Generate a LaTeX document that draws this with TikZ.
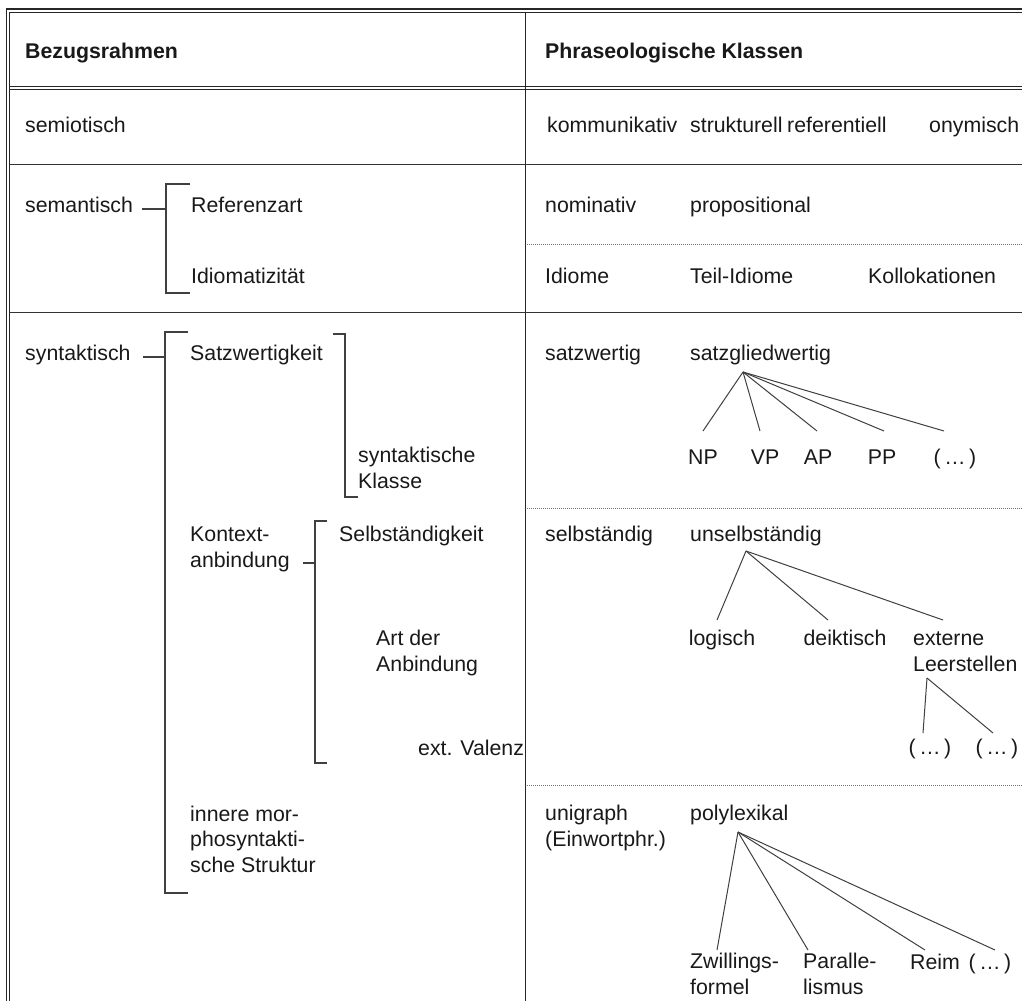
\documentclass[tikz,border=0pt]{standalone}
\usepackage{fontspec}
\setmainfont{Liberation Sans}
\begin{document}
\begin{tikzpicture}[x=1pt,y=-1pt,
  txt/.style={anchor=base west,inner sep=0pt,align=left,text=black!90,
    font=\fontsize{21.3}{25.5}\selectfont},
  ctxt/.style={txt,anchor=base},
  head/.style={txt,font=\fontsize{21.3}{25.5}\selectfont\bfseries},
  rule/.style={draw=black!85,line width=1.3pt},
  thinrule/.style={draw=black!80,line width=1pt},
  dotrule/.style={draw=black!55,line width=0.8pt,dash pattern=on 1pt off 1pt},
  brace/.style={draw=black!75,line width=1.1pt},
  branch/.style={draw=black!75,line width=1pt}]
\useasboundingbox (0,0) rectangle (1022,1001);
\fill[white] (0,0) rectangle (1022,1001);

% table frame
\draw[rule] (6.5,9) -- (6.5,1001);
\draw[rule] (9.8,12) -- (9.8,1001);
\draw[rule] (6,9) -- (1022,9);
\draw[rule] (9.8,12.2) -- (1022,12.2);
\draw[rule] (9.8,86.5) -- (1022,86.5);
\draw[rule] (9.8,89.5) -- (1022,89.5);
\draw[rule] (525.5,12.2) -- (525.5,1001);
\draw[thinrule] (9.8,164.5) -- (1022,164.5);
\draw[thinrule] (9.8,312) -- (1022,312);
\draw[dotrule] (527,244) -- (1022,244);
\draw[dotrule] (527,508) -- (1022,508);
\draw[dotrule] (527,785) -- (1022,785);

% header
\node[head] (hbez) at (25,58) {Bezugsrahmen};
\node[head] (hphr) at (545,58) {Phraseologische Klassen};

% semiotic row
\node[txt] (semio) at (25,132) {semiotisch};
\node[txt] (komm) at (547,132) {kommunikativ};
\node[txt] (strukt) at (690,132) {strukturell};
\node[txt] (refer) at (787,132) {referentiell};
\node[txt] (onym) at (929,132) {onymisch};

% semantic row
\node[txt] (seman) at (25,212) {semantisch};
\node[txt] (refart) at (191,212) {Referenzart};
\node[txt] (idiom) at (191,283) {Idiomatizität};
\node[txt] (nomin) at (545,212) {nominativ};
\node[txt] (propo) at (690,212) {propositional};
\node[txt] (idiome) at (545,283) {Idiome};
\node[txt] (teil) at (690,283) {Teil-Idiome};
\node[txt] (kollo) at (868,283) {Kollokationen};

\coordinate (semB) at (166,209);
\draw[brace] (142,209) -- (semB);
\draw[brace] (190,184) -| (166,293) -- (190,293);

% syntactic row, left column (multi-line nodes sit on their last baseline)
\node[txt] (synt) at (25,360) {syntaktisch};
\node[txt] (satzw) at (190,360) {Satzwertigkeit};
\node[txt] (synkl) at (358,488) {syntaktische\\Klasse};
\node[txt] (kont) at (190,567) {Kontext-\\anbindung};
\node[txt] (selbk) at (339,541) {Selbständigkeit};
\node[txt] (artd) at (376,671) {Art der\\Anbindung};
\node[txt] (extv) at (418,755) {ext. Valenz};
\node[txt] (inner) at (190,872) {innere mor-\\phosyntakti-\\sche Struktur};

\draw[brace] (143,357) -- (165,357);
\draw[brace] (188,332) -| (165,893) -- (188,893);
\draw[brace] (333,334) -| (345,497) -- (358,497);
\draw[brace] (303,563) -- (315,563);
\draw[brace] (327,521) -| (315,763) -- (327,763);

% syntactic row, right column
\node[txt] (satzwg) at (545,360) {satzwertig};
\node[txt] (sglied) at (690,360) {satzgliedwertig};
\coordinate (ap1) at (743,372);
\node[ctxt] (np) at (703,464) {NP};
\node[ctxt] (vp) at (765,464) {VP};
\node[ctxt] (adjp) at (818,464) {AP};
\node[ctxt] (pp) at (882,464) {PP};
\node[ctxt] (etc1) at (955,464) {(\,\dots\,)};
\draw[branch] (ap1) -- (703,431);
\draw[branch] (ap1) -- (760,431);
\draw[branch] (ap1) -- (817,431);
\draw[branch] (ap1) -- (884,431);
\draw[branch] (ap1) -- (944,431);

\node[txt] (selbg) at (545,541) {selbständig};
\node[txt] (unselb) at (690,541) {unselbständig};
\coordinate (ap2) at (746,551);
\node[ctxt] (logi) at (722,645) {logisch};
\node[ctxt] (deik) at (845,645) {deiktisch};
\node[txt] (extern) at (913,671) {externe\\Leerstellen};
\draw[branch] (ap2) -- (717,620);
\draw[branch] (ap2) -- (828,620);
\draw[branch] (ap2) -- (943,620);
\coordinate (ap3) at (927,678);
\node[ctxt] (etc2) at (930,754) {(\,\dots\,)};
\node[ctxt] (etc3) at (997,754) {(\,\dots\,)};
\draw[branch] (ap3) -- (923,733);
\draw[branch] (ap3) -- (993,733);

\node[txt] (unig) at (545,846) {unigraph\\(Einwortphr.)};
\node[txt] (polyl) at (690,820) {polylexikal};
\coordinate (ap4) at (738,832);
\node[txt] (zwill) at (690,994) {Zwillings-\\formel};
\node[txt] (paral) at (803,994) {Paralle-\\lismus};
\node[txt] (reim) at (910,969) {Reim};
\node[ctxt] (etc4) at (990,969) {(\,\dots\,)};
\draw[branch] (ap4) -- (717,950);
\draw[branch] (ap4) -- (808,950);
\draw[branch] (ap4) -- (925,950);
\draw[branch] (ap4) -- (995,950);
\end{tikzpicture}
\end{document}
